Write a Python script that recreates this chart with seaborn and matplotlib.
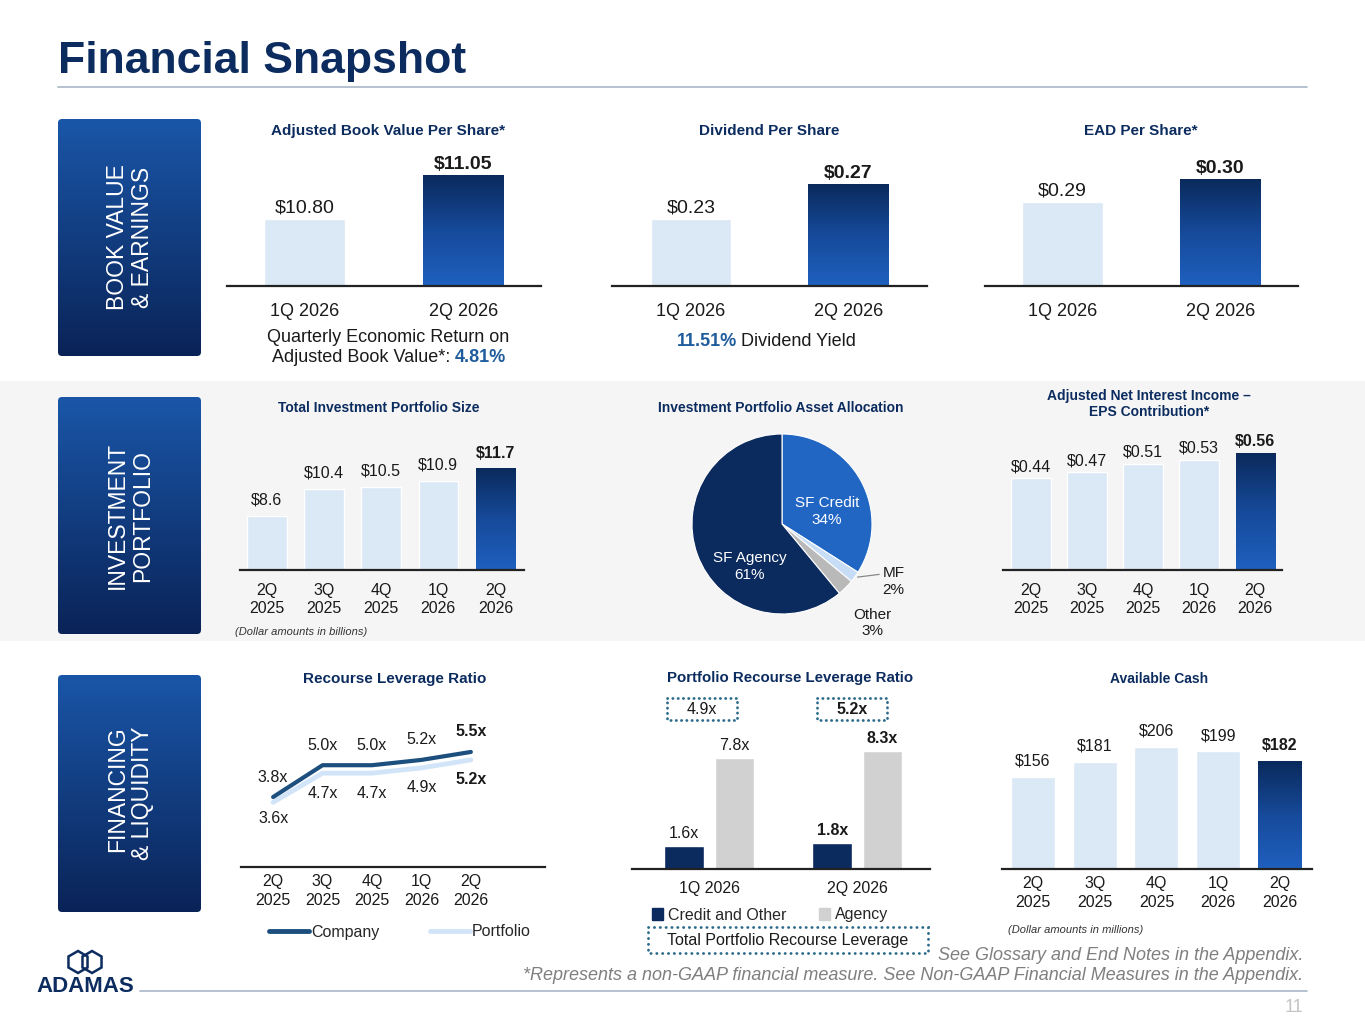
import numpy as np
import pandas as pd
import matplotlib
matplotlib.use('Agg')
import matplotlib.pyplot as plt
import seaborn as sns
from matplotlib.patches import FancyBboxPatch, RegularPolygon, Patch
from matplotlib.lines import Line2D
from matplotlib.colors import LinearSegmentedColormap

# data
book_quarters = ['1Q 2026', '2Q 2026']
book_value = [10.80, 11.05]
dividend = [0.23, 0.27]
ead = [0.29, 0.30]
trend_quarters = ['2Q\n2025', '3Q\n2025', '4Q\n2025', '1Q\n2026', '2Q\n2026']
portfolio_size = [8.6, 10.4, 10.5, 10.9, 11.7]
alloc_labels = ['SF Credit', 'MF', 'Other', 'SF Agency']
alloc_pct = [34, 2, 3, 61]
anii_eps = [0.44, 0.47, 0.51, 0.53, 0.56]
company_lev = [3.8, 5.0, 5.0, 5.2, 5.5]
portfolio_lev = [3.6, 4.7, 4.7, 4.9, 5.2]
port_quarters = ['1Q 2026', '2Q 2026']
credit_lev = [1.6, 1.8]
agency_lev = [7.8, 8.3]
total_port_lev = [4.9, 5.2]
avail_cash = [156, 181, 206, 199, 182]

sns.set_theme(style='white')
NARROW = ['Liberation Sans Narrow', 'Liberation Sans', 'DejaVu Sans']
SANS = ['Liberation Sans', 'DejaVu Sans']
plt.rcParams['font.family'] = SANS

NAVY = '#0c2c5f'
LIGHT = '#dbe8f5'
TXT = '#1a1a1a'
BLUE_TXT = '#1f5c9c'
DOTS = '#2a6a8a'
bar_grad = LinearSegmentedColormap.from_list('bg', ['#1f60bf', '#164a9a', '#0a2a5c'])
box_grad = LinearSegmentedColormap.from_list('box', ['#0a2357', '#123d80', '#1a56a8'])
grad = np.linspace(0, 1, 256).reshape(-1, 1)

W, H = 1365, 1024
fig = plt.figure(figsize=(W / 100, H / 100), dpi=100)


def rect(x0, y0, x1, y1):
    return [x0 / W, 1 - y1 / H, (x1 - x0) / W, (y1 - y0) / H]


bg = fig.add_axes([0, 0, 1, 1], zorder=0)
bg.set_xlim(0, W)
bg.set_ylim(H, 0)
bg.axis('off')

# middle band
bg.add_patch(plt.Rectangle((0, 381), W, 260, facecolor='#f5f5f5', edgecolor='none', zorder=-5))

# title + rules
bg.text(58, 62, 'Financial Snapshot', fontsize=32, fontweight='bold', color=NAVY,
        family=NARROW, va='center', ha='left')
bg.plot([58, 1307], [87, 87], color='#a9b6c8', lw=1.2)
bg.plot([140, 1307], [991, 991], color='#a9b6c8', lw=1.2)

# section boxes
sections = [(119, 356, 'BOOK VALUE\n& EARNINGS', 'center'),
            (397, 634, 'INVESTMENT\nPORTFOLIO', 'center'),
            (675, 912, 'FINANCING\n& LIQUIDITY', 'right')]
for y0, y1, label, align in sections:
    box = FancyBboxPatch((58, y0), 143, y1 - y0, boxstyle='round,pad=0,rounding_size=4',
                         facecolor='none', edgecolor='none')
    bg.add_patch(box)
    im = bg.imshow(grad, extent=[58, 201, y1, y0], origin='lower', cmap=box_grad, aspect='auto',
                   zorder=1)
    im.set_clip_path(box)
    bg.text(130, (y0 + y1) / 2, label, rotation=90, color='white', fontsize=16.5,
            ha='center', va='center', multialignment=align, linespacing=1.15, zorder=3)
bg.set_xlim(0, W)
bg.set_ylim(H, 0)


def style_axis(ax):
    ax.set_facecolor('none')
    for s in ['left', 'right', 'top']:
        ax.spines[s].set_visible(False)
    ax.spines['bottom'].set_color('#222222')
    ax.spines['bottom'].set_linewidth(1.6)
    ax.set_yticks([])
    ax.set_ylabel('')
    ax.set_xlabel('')


def bar_panel(box, cats, vals, xlim, ylim, width, fmt, family, fs, pad, title, tx, ty,
              tfam, tfs, off=3, vfs=None):
    ax = fig.add_axes(rect(*box))
    n = len(vals)
    colors = [LIGHT] * (n - 1) + [NAVY]
    sns.barplot(x=list(range(n)), y=vals, hue=list(range(n)), palette=colors, legend=False,
                saturation=1, width=width, ax=ax)
    for p in ax.patches:
        if abs(p.get_x() + p.get_width() / 2 - (n - 1)) < 0.1:
            ax.imshow(grad, extent=[p.get_x(), p.get_x() + p.get_width(),
                                    max(ylim[0], 0), p.get_height()],
                      origin='lower', cmap=bar_grad, aspect='auto', zorder=p.get_zorder() + 0.5)
    for i, v in enumerate(vals):
        ax.annotate(fmt(v), (i, v), xytext=(0, off), textcoords='offset points', ha='center',
                    va='bottom', fontsize=vfs or fs, family=family, color=TXT,
                    fontweight='bold' if i == n - 1 else 'normal')
    ax.set_xlim(*xlim)
    ax.set_ylim(*ylim)
    ax.set_xticks(range(n))
    ax.set_xticklabels(cats, family=family, fontsize=fs, color=TXT, linespacing=1.3)
    ax.tick_params(axis='x', length=0, pad=pad)
    style_axis(ax)
    bg.text(tx, ty, title, ha='center', va='center', fontweight='bold', color=NAVY,
            family=tfam, fontsize=tfs)
    return ax


# row 1
bar_panel((227, 150, 541, 286), book_quarters, book_value, (-0.49, 1.49), (10.41, 11.2), 0.51,
          lambda v: f'${v:.2f}', NARROW, 13, 12, 'Adjusted Book Value Per Share*', 388, 131, NARROW, 11,
          off=2, vfs=14)
bar_panel((612, 150, 927, 286), book_quarters, dividend, (-0.5, 1.5), (0.151, 0.311), 0.51,
          lambda v: f'${v:.2f}', NARROW, 13, 12, 'Dividend Per Share', 769, 131, NARROW, 11,
          off=2, vfs=14)
bar_panel((985, 150, 1298, 286), book_quarters, ead, (-0.49, 1.49), (0.2518, 0.3136), 0.51,
          lambda v: f'${v:.2f}', NARROW, 13, 12, 'EAD Per Share*', 1141, 131, NARROW, 11,
          off=2, vfs=14)

bg.text(388, 338, 'Quarterly Economic Return on', ha='center', va='center', family=NARROW,
        fontsize=13, color=TXT)
bg.text(455, 357, 'Adjusted Book Value*: ', ha='right', va='center', family=NARROW, fontsize=13, color=TXT)
bg.text(455, 357, '4.81%', ha='left', va='center', family=NARROW, fontsize=13, color=BLUE_TXT,
        fontweight='bold')
bg.text(737, 341, '11.51%', ha='right', va='center', family=NARROW, fontsize=13, color=BLUE_TXT,
        fontweight='bold')
bg.text(741, 341, 'Dividend Yield', ha='left', va='center', family=NARROW, fontsize=13, color=TXT)

# row 2
bar_panel((240, 440, 524, 570), trend_quarters, portfolio_size, (-0.47, 4.5), (5.05, 13.6), 0.69,
          lambda v: f'${v:.1f}', SANS, 11.5, 9, 'Total Investment Portfolio Size', 379, 408, SANS, 10,
          off=6)
bg.text(235, 632, '(Dollar amounts in billions)', ha='left', va='center', style='italic',
        fontsize=8, color='#333333')
bar_panel((1003, 440, 1282, 570), trend_quarters, anii_eps, (-0.5, 4.48), (0, 0.625), 0.7,
          lambda v: f'${v:.2f}', SANS, 11.5, 9, 'Adjusted Net Interest Income –\nEPS Contribution*',
          1149, 404, SANS, 10, off=3)

# pie
pax = fig.add_axes(rect(692, 434, 872, 614))
pax.pie(alloc_pct, colors=['#2266c4', '#c6ddf5', '#b9b9b9', '#0b2a5e'], startangle=90,
        counterclock=False, radius=1, wedgeprops=dict(edgecolor='white', linewidth=0.8))
pax.set_xlim(-1, 1)
pax.set_ylim(-1, 1)
pax.set_aspect('equal')
pax.text(0.5, 0.14, f'{alloc_labels[0]}\n{alloc_pct[0]}%', color='white', ha='center', va='center',
         fontsize=11, linespacing=1.25)
pax.text(-0.36, -0.47, f'{alloc_labels[3]}\n{alloc_pct[3]}%', color='white', ha='center', va='center',
         fontsize=11, linespacing=1.25)
pax.plot([0.84, 1.08], [-0.59, -0.56], color='#888888', lw=0.9, clip_on=False)
pax.text(1.24, -0.64, f'{alloc_labels[1]}\n{alloc_pct[1]}%', color=TXT, ha='center', va='center',
         fontsize=11, linespacing=1.25)
pax.text(1.0, -1.1, f'{alloc_labels[2]}\n{alloc_pct[2]}%', color=TXT, ha='center', va='center',
         fontsize=11, linespacing=1.25)
bg.text(781, 408, 'Investment Portfolio Asset Allocation', ha='center', va='center',
        fontweight='bold', color=NAVY, fontsize=10)

# row 3 - recourse leverage line chart
lax = fig.add_axes(rect(241, 700, 545, 867))
xs = list(range(len(company_lev)))
sns.lineplot(x=xs, y=portfolio_lev, ax=lax, color='#d2e5f8', lw=3.5)
sns.lineplot(x=xs, y=company_lev, ax=lax, color='#1c4f7e', lw=3)
last = len(xs) - 1
for i, v in enumerate(company_lev):
    lax.annotate(f'{v:.1f}x', (i, v), xytext=(0, 9), textcoords='offset points', ha='center',
                 va='bottom', family=NARROW, fontsize=11.5, color=TXT,
                 fontweight='bold' if i == last else 'normal')
for i, v in enumerate(portfolio_lev):
    lax.annotate(f'{v:.1f}x', (i, v), xytext=(0, -9 if i else -6), textcoords='offset points',
                 ha='center', va='top', family=NARROW, fontsize=11.5, color=TXT,
                 fontweight='bold' if i == last else 'normal')
lax.set_xlim(-0.65, 5.5)
lax.set_ylim(1.16, 7.46)
lax.set_xticks(xs)
lax.set_xticklabels(trend_quarters, family=NARROW, fontsize=11.5, color=TXT, linespacing=1.3)
lax.tick_params(axis='x', length=0, pad=5)
style_axis(lax)
bg.text(395, 679, 'Recourse Leverage Ratio', ha='center', va='center', fontweight='bold',
        color=NAVY, family=NARROW, fontsize=11)
fig.legend(handles=[Line2D([], [], color='#1c4f7e', lw=3.5, label='Company'),
                    Line2D([], [], color='#d2e5f8', lw=3.5, label='Portfolio')],
           loc='center', bbox_to_anchor=(400 / W, 1 - 932 / H), ncol=2, frameon=False,
           handlelength=2.5, handletextpad=0.1, columnspacing=3.2,
           prop=dict(family=NARROW, size=11.5))

# row 3 - portfolio recourse leverage bars
df_port = pd.DataFrame({
    'quarter': port_quarters * 2,
    'kind': ['Credit and Other'] * len(port_quarters) + ['Agency'] * len(port_quarters),
    'value': credit_lev + agency_lev,
})
kind_colors = {'Credit and Other': '#0b2a5e', 'Agency': '#d1d1d1'}
bax = fig.add_axes(rect(632, 700, 930, 869))
sns.barplot(data=df_port, x='quarter', y='value', hue='kind', palette=kind_colors, saturation=1,
            width=0.68, gap=0.22, legend=False, ax=bax)
for k, kind in enumerate(kind_colors):
    sub = df_port[df_port['kind'] == kind]
    for i, v in enumerate(sub['value']):
        bax.annotate(f'{v:.1f}x', (i + (k - 0.5) * 0.34, v), xytext=(0, 4), textcoords='offset points',
                     ha='center', va='bottom', family=NARROW, fontsize=11.5, color=TXT,
                     fontweight='bold' if i == len(sub) - 1 else 'normal')
bax.set_xlim(-0.52, 1.49)
bax.set_ylim(0, 169 / 14.2)
bax.set_xticks(range(len(port_quarters)))
bax.set_xticklabels(port_quarters, family=NARROW, fontsize=11.5, color=TXT)
bax.tick_params(axis='x', length=0, pad=9)
style_axis(bax)
bg.text(790, 678, 'Portfolio Recourse Leverage Ratio', ha='center', va='center', fontweight='bold',
        color=NAVY, family=NARROW, fontsize=10.8)
for (cx, v, bold) in [(702, total_port_lev[0], False), (852, total_port_lev[1], True)]:
    b = FancyBboxPatch((cx - 35, 698), 70, 22, boxstyle='square,pad=0', facecolor='none',
                       edgecolor=DOTS, lw=2.0, linestyle=(0, (0.1, 1.8)))
    b.set_capstyle('round')
    bg.add_patch(b)
    bg.text(cx, 709, f'{v:.1f}x', ha='center', va='center', family=NARROW, fontsize=11.5, color=TXT,
            fontweight='bold' if bold else 'normal')
fig.legend(handles=[Patch(color=c, label=k) for k, c in kind_colors.items()],
           loc='center', bbox_to_anchor=(770 / W, 1 - 915 / H), ncol=2, frameon=False,
           handlelength=0.7, handleheight=0.7, handletextpad=0.3, columnspacing=2.0,
           prop=dict(family=NARROW, size=11.5))
b = FancyBboxPatch((648, 927), 280, 26, boxstyle='square,pad=0', facecolor='none',
                   edgecolor=DOTS, lw=2.0, linestyle=(0, (0.1, 2.0)))
b.set_capstyle('round')
bg.add_patch(b)
bg.text(788, 940, 'Total Portfolio Recourse Leverage', ha='center', va='center', family=NARROW,
        fontsize=11.5, color=TXT)

# row 3 - available cash
bar_panel((1002, 700, 1312, 869), trend_quarters, avail_cash, (-0.5, 4.52), (0, 286), 0.71,
          lambda v: f'${v:.0f}', SANS, 11.5, 5, 'Available Cash', 1159, 679, SANS, 10, off=6)
bg.text(1008, 930, '(Dollar amounts in millions)', ha='left', va='center', style='italic',
        fontsize=8, color='#333333')

# footer
bg.text(1303, 956, 'See Glossary and End Notes in the Appendix.', ha='right', va='center',
        family=NARROW, style='italic', fontsize=13, color='#7f7f7f')
bg.text(1303, 975, '*Represents a non-GAAP financial measure. See Non-GAAP Financial Measures in the Appendix.',
        ha='right', va='center', family=NARROW, style='italic', fontsize=13, color='#7f7f7f')
bg.text(1303, 1007, '11', ha='right', va='center', fontsize=13, color='#c4c4c4')
bg.text(85, 987, 'ADAMAS', ha='center', va='center', fontweight='bold', fontsize=16, color=NAVY)
for cx in (78, 92):
    bg.add_patch(RegularPolygon((cx, 962), numVertices=6, radius=11, orientation=0,
                                facecolor='none', edgecolor=NAVY, lw=1.8))

fig.savefig('out.png', dpi=100)
